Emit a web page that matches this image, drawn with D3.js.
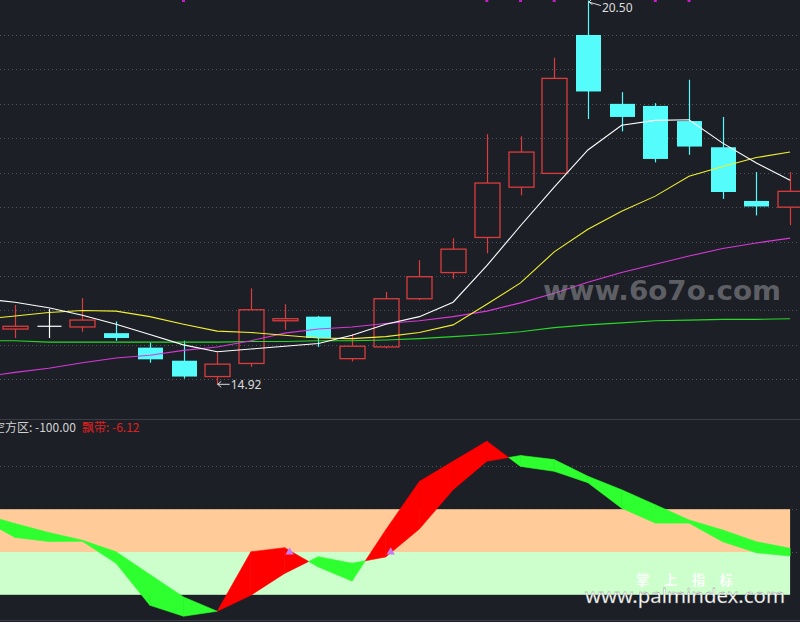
<!DOCTYPE html>
<html><head><meta charset="utf-8">
<script src="https://cdn.jsdelivr.net/npm/d3@7"></script>
<style>html,body{margin:0;padding:0;background:#1c1f26;overflow:hidden}</style>
</head><body><svg id="c" width="800" height="622"></svg>
<script>
// ---- data ----
const candleIdx = d3.range(0, 24);
const openP  = [15.73,15.77,15.76,15.67,15.46,15.27,15.04,15.23,15.85,15.91,15.30,15.47,16.17,16.55,17.06,17.79,17.99,20.00,19.00,18.97,18.75,18.37,17.59,17.50];
const closeP = [15.77,15.77,15.86,15.60,15.29,15.04,15.22,16.01,15.88,15.60,15.48,16.17,16.49,16.89,17.85,18.30,19.37,19.18,18.81,18.20,18.38,17.72,17.51,17.73];
const highP  = [16.08,16.02,16.18,15.84,15.53,15.56,15.39,16.32,16.09,15.92,15.66,16.27,16.73,17.05,18.56,18.53,19.67,20.50,19.17,19.01,19.35,18.81,18.01,18.01];
const lowP   = [15.60,15.60,15.69,15.56,15.24,15.01,14.92,15.18,15.72,15.47,15.26,15.45,16.15,16.46,16.83,17.67,17.99,18.78,18.60,18.15,18.26,17.62,17.38,17.24];

const lineIdx = d3.range(-1, 24);
const maWhite   = [16.17,16.12,16.04,15.93,15.80,15.65,15.50,15.40,15.44,15.48,15.52,15.64,15.80,15.91,16.12,16.65,17.23,17.79,18.33,18.69,18.76,18.77,18.43,18.14,17.89];
const maYellow  = [15.87,15.92,15.97,16.00,15.99,15.91,15.80,15.70,15.68,15.64,15.60,15.59,15.62,15.68,15.79,16.09,16.40,16.85,17.18,17.44,17.66,17.95,18.09,18.22,18.30];
const maMagenta = [15.03,15.10,15.16,15.24,15.31,15.35,15.42,15.47,15.56,15.67,15.73,15.76,15.81,15.85,15.91,15.99,16.11,16.25,16.41,16.55,16.67,16.79,16.90,16.98,17.05];
const maGreen   = [15.56,15.56,15.54,15.54,15.54,15.54,15.54,15.54,15.55,15.55,15.56,15.56,15.57,15.59,15.62,15.65,15.69,15.75,15.79,15.82,15.85,15.86,15.87,15.87,15.88];

const ribbonA = [15.5,6.8,4.9,5.0,-5.3,-24.9,-30.0,-27.7,0.1,2.0,-7.0,-13.6,10.3,33.0,42.4,51.8,40.0,37.7,32.4,20.5,13.5,13.5,4.8,-0.3,-1.9];
const ribbonB = [17.9,13.3,9.1,5.5,0.1,-10.5,-21.0,-27.7,-20.2,-10.0,-2.2,-5.3,-2.3,10.8,29.1,42.4,45.1,43.2,35.4,29.1,22.1,15.0,10.3,4.8,1.7];

const priceTicks = d3.range(15, 20.01, 0.5);
const lowerTicks = [0, 20, 40];
const zoneBands = [{from: 0, to: 20, color: "#ffcc99"}, {from: -20, to: 0, color: "#ccffcc"}];
const topMarkIdx = [5, 14, 15, 16, 19, 20];
const signalIdx = [8, 11];
const labelLeft = "空方区: -100.00";
const labelRight = "飘带: -6.12";

// ---- scales ----
const W = 800;
const x = d3.scaleLinear().domain([0, 23]).range([15, 790.1]);
const y = d3.scaleLinear().domain([15, 20]).range([379.3, 35]);
const yL = d3.scaleLinear().domain([0, 20]).range([552, 509.2]);
const bodyW = 25;

const svg = d3.select("#c");
svg.append("rect").attr("width", 800).attr("height", 622).attr("fill", "#1c1f26");
const defs = svg.append("defs");
defs.append("clipPath").attr("id", "cu").append("rect").attr("x", 0).attr("y", 0).attr("width", W).attr("height", 418);
defs.append("clipPath").attr("id", "cl").append("rect").attr("x", 0).attr("y", 420).attr("width", W).attr("height", 199);

const up = svg.append("g").attr("clip-path", "url(#cu)");
const lo = svg.append("g").attr("clip-path", "url(#cl)");

// grid upper
up.selectAll("line.g").data(priceTicks).join("line")
  .attr("x1", 0).attr("x2", W).attr("y1", d => Math.round(y(d)) + 0.5).attr("y2", d => Math.round(y(d)) + 0.5)
  .attr("stroke", "#50545c").attr("stroke-dasharray", "1,3");

// candles
const red = "#dc3c3c", cyan = "#54fcfc";
candleIdx.forEach(i => {
  const o = openP[i], c = closeP[i], h = highP[i], l = lowP[i];
  const cx = Math.round(x(i)) + 0.5;
  if (c > o) {
    const top = y(c), bot = y(o);
    up.append("line").attr("x1", cx).attr("x2", cx).attr("y1", y(h)).attr("y2", top).attr("stroke", red).attr("stroke-width", 1.2);
    up.append("line").attr("x1", cx).attr("x2", cx).attr("y1", bot).attr("y2", y(l)).attr("stroke", red).attr("stroke-width", 1.2);
    up.append("rect").attr("x", cx - bodyW / 2).attr("y", top).attr("width", bodyW).attr("height", Math.max(1, bot - top))
      .attr("fill", "none").attr("stroke", red).attr("stroke-width", 1.3);
  } else if (c < o) {
    up.append("line").attr("x1", cx).attr("x2", cx).attr("y1", y(h)).attr("y2", y(l)).attr("stroke", cyan).attr("stroke-width", 1.2);
    up.append("rect").attr("x", cx - bodyW / 2).attr("y", y(o)).attr("width", bodyW).attr("height", Math.max(1, y(c) - y(o)))
      .attr("fill", cyan);
  } else {
    up.append("line").attr("x1", cx).attr("x2", cx).attr("y1", y(h)).attr("y2", y(l)).attr("stroke", "#ffffff").attr("stroke-width", 1.2);
    up.append("line").attr("x1", cx - 12).attr("x2", cx + 12).attr("y1", y(o)).attr("y2", y(o)).attr("stroke", "#ffffff").attr("stroke-width", 1.2);
  }
});

// moving averages
const lineGen = d3.line().x(d => x(d[0])).y(d => y(d[1]));
[[maGreen, "#28d828"], [maMagenta, "#d838d8"], [maYellow, "#f0f030"], [maWhite, "#ffffff"]].forEach(([arr, col]) => {
  up.append("path").attr("d", lineGen(lineIdx.map((i, k) => [i, arr[k]])))
    .attr("fill", "none").attr("stroke", col).attr("stroke-width", 1.1);
});

// top marks
up.selectAll("rect.tm").data(topMarkIdx).join("rect")
  .attr("x", d => x(d) - 1.5).attr("y", 0).attr("width", 3).attr("height", 2).attr("fill", "#c81ec8");

// high/low labels
const hi = d3.maxIndex(highP), lw = d3.minIndex(lowP);
const labCol = "#dcdcdc";
{
  const ax = x(hi) + 1, ay = y(highP[hi]) + 1.5;
  up.append("path").attr("d", `M${ax + 12},${ay + 3.5}L${ax},${ay}M${ax},${ay}L${ax + 3},${ay - 3}M${ax},${ay}L${ax + 3.5},${ay + 2.5}`)
    .attr("stroke", labCol).attr("fill", "none").attr("stroke-width", 1);
  up.append("text").attr("x", ax + 13).attr("y", ay + 9.5).text(highP[hi].toFixed(2))
    .attr("fill", labCol).attr("font-family", "Noto Sans, sans-serif").attr("font-size", 12);
}
{
  const ax = x(lw) + 0.5, ay = y(lowP[lw]) - 0.5;
  up.append("path").attr("d", `M${ax + 12},${ay}L${ax},${ay}M${ax},${ay}L${ax + 3.5},${ay - 3}M${ax},${ay}L${ax + 3.5},${ay + 3}`)
    .attr("stroke", labCol).attr("fill", "none").attr("stroke-width", 1);
  up.append("text").attr("x", ax + 13).attr("y", ay + 4.5).text(lowP[lw].toFixed(2))
    .attr("fill", labCol).attr("font-family", "Noto Sans, sans-serif").attr("font-size", 12);
}

// watermark 6o7o
up.append("text").attr("x", 543).attr("y", 300).text("www.6o7o.com")
  .attr("fill", "#8a8c90").attr("fill-opacity", 0.6).attr("font-family", "DejaVu Sans, sans-serif")
  .attr("font-weight", "bold").attr("font-size", 27).attr("textLength", 238).attr("lengthAdjust", "spacingAndGlyphs");

// separator lines
svg.append("line").attr("x1", 0).attr("x2", W).attr("y1", 419.5).attr("y2", 419.5).attr("stroke", "#3a3d46");
svg.append("line").attr("x1", 0).attr("x2", W).attr("y1", 620.5).attr("y2", 620.5).attr("stroke", "#3a3d46");

// lower grid
lo.selectAll("line.g").data(lowerTicks).join("line")
  .attr("x1", 0).attr("x2", W).attr("y1", d => Math.round(yL(d)) + 0.5).attr("y2", d => Math.round(yL(d)) + 0.5)
  .attr("stroke", "#50545c").attr("stroke-dasharray", "1,3");

// zone bands
lo.selectAll("rect.band").data(zoneBands).join("rect")
  .attr("x", 0).attr("width", x(23))
  .attr("y", d => yL(d.to)).attr("height", d => yL(d.from) - yL(d.to)).attr("fill", d => d.color);

// ribbon
const pts = lineIdx.map((i, k) => ({ i, a: ribbonA[k], b: ribbonB[k] }));
const redF = "#ff0000", grnF = "#2eff2e";
const polys = [];
for (let k = 0; k < pts.length - 1; k++) {
  const p = pts[k], q = pts[k + 1];
  const d1 = p.a - p.b, d2 = q.a - q.b;
  if (d1 * d2 < 0) {
    const t = d1 / (d1 - d2);
    const xi = p.i + t * (q.i - p.i), vi = p.a + t * (q.a - p.a);
    polys.push({ pts: [[p.i, p.a], [xi, vi], [p.i, p.b]], col: d1 > 0 ? redF : grnF });
    polys.push({ pts: [[xi, vi], [q.i, q.a], [q.i, q.b]], col: d2 > 0 ? redF : grnF });
  } else {
    polys.push({ pts: [[p.i, p.a], [q.i, q.a], [q.i, q.b], [p.i, p.b]], col: (d1 + d2) > 0 ? redF : grnF });
  }
}
lo.selectAll("path.rb").data(polys).join("path")
  .attr("d", d => "M" + d.pts.map(v => x(v[0]) + "," + yL(v[1])).join("L") + "Z")
  .attr("fill", d => d.col).attr("stroke", d => d.col).attr("stroke-width", 0.6);

// signal triangles
lo.selectAll("path.sig").data(signalIdx).join("path")
  .attr("d", d3.symbol(d3.symbolTriangle, 30))
  .attr("transform", d => `translate(${x(d) + 5},${yL(0)})`)
  .attr("fill", "#c97bf0");

// lower labels
const lab = svg.append("text").attr("y", 432).attr("font-family", "Noto Sans CJK SC, sans-serif").attr("font-size", 12);
lab.append("tspan").attr("x", -7).attr("fill", "#d2d2d2").text(labelLeft);
svg.append("text").attr("x", 82).attr("y", 432).attr("font-family", "Noto Sans CJK SC, sans-serif").attr("font-size", 12)
  .attr("fill", "#e02020").text(labelRight);

// palmindex watermark
svg.append("text").attr("x", 636).attr("y", 584.5).text("掌 上 指 标")
  .attr("fill", "#ffffff").attr("fill-opacity", 0.9).attr("font-family", "Noto Sans CJK SC, sans-serif")
  .attr("font-weight", "bold").attr("font-size", 13.5).attr("textLength", 97);
svg.append("text").attr("x", 585).attr("y", 603).text("www.palmindex.com")
  .attr("fill", "#ffffff").attr("font-family", "Noto Sans, sans-serif")
  .attr("font-size", 20).attr("textLength", 200).attr("lengthAdjust", "spacingAndGlyphs")
  .attr("stroke", "#777").attr("stroke-width", 0.3);
</script></body></html>
